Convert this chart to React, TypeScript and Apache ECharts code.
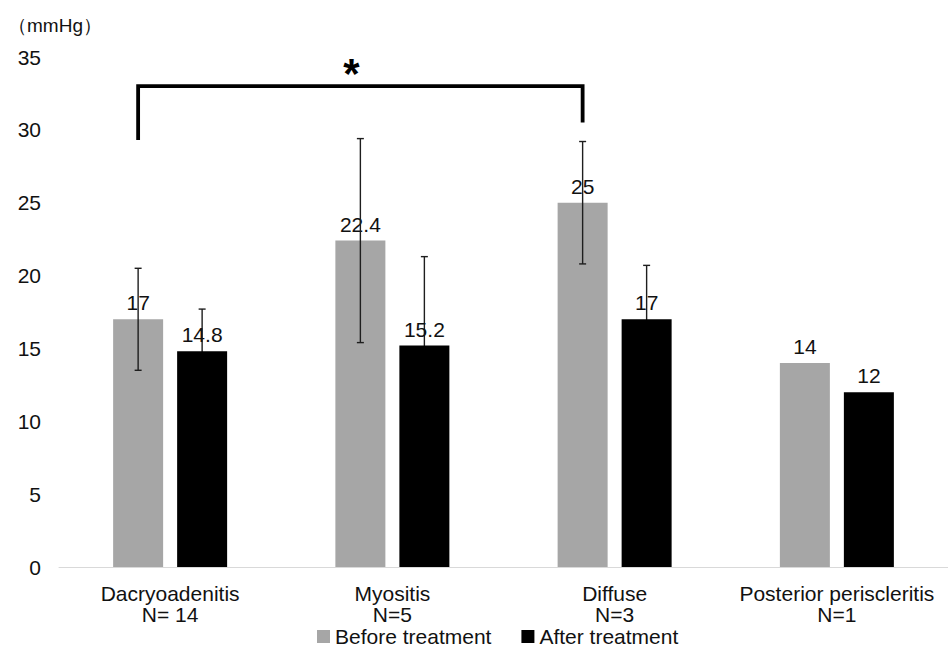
import React, { useEffect, useRef } from "react";
import * as echarts from "echarts";

const categories = [
  "Dacryoadenitis\nN= 14",
  "Myositis\nN=5",
  "Diffuse\nN=3",
  "Posterior periscleritis\nN=1",
];
const seriesNames = ["Before treatment", "After treatment"];
const beforeValues = [17, 22.4, 25, 14];
const afterValues = [14.8, 15.2, 17, 12];
const beforeSD = [3.5, 7.0, 4.2, null];
const afterSD = [2.9, 6.1, 3.7, null];
const yTicks = { min: 0, max: 35, interval: 5 };
const unitLabel = "（mmHg）";
// significance bracket: from category 0 (before) to category 2 (before)
const bracket = { from: 0, to: 2, top: 33.0, leftEnd: 29.3, rightEnd: 30.5, mark: "*" };

const FONT = "'Liberation Sans', Arial, sans-serif";
const BAR_W = 50;
const BAR_GAP_PX = 14;
const OFFSET = (BAR_W + BAR_GAP_PX) / 2;

function errorSeries(name: string, means: number[], sds: (number | null)[], offset: number, z: number) {
  const data = means
    .map((m, i) => (sds[i] == null ? null : [i, m, sds[i] as number]))
    .filter((d) => d !== null);
  return {
    name,
    type: "custom",
    z,
    silent: true,
    data,
    renderItem: (params: any, api: any) => {
      const idx = api.value(0);
      const mean = api.value(1);
      const sd = api.value(2);
      const top = api.coord([idx, mean + sd]);
      const bot = api.coord([idx, mean - sd]);
      const cx = top[0] + offset;
      const cap = 3.5;
      const style = { stroke: "#1e1e1e", lineWidth: 1.4 };
      return {
        type: "group",
        children: [
          { type: "line", shape: { x1: cx, y1: top[1], x2: cx, y2: bot[1] }, style },
          { type: "line", shape: { x1: cx - cap, y1: top[1], x2: cx + cap, y2: top[1] }, style },
          { type: "line", shape: { x1: cx - cap, y1: bot[1], x2: cx + cap, y2: bot[1] }, style },
        ],
      };
    },
  };
}

export default function App() {
  const ref = useRef<HTMLDivElement>(null);
  useEffect(() => {
    if (!ref.current) return;
    const chart = echarts.init(ref.current, undefined, { renderer: "svg" });
    const option: any = {
      animation: false,
      backgroundColor: "#ffffff",
      textStyle: { fontFamily: FONT },
      title: {
        text: unitLabel,
        left: 3,
        top: 11,
        textStyle: { fontFamily: FONT, fontSize: 19, fontWeight: "normal", color: "#111" },
      },
      legend: {
        data: seriesNames,
        left: 312,
        top: 621,
        icon: "rect",
        itemWidth: 13,
        itemHeight: 13,
        itemGap: 30,
        textStyle: { fontFamily: FONT, fontSize: 21, color: "#111" },
      },
      grid: { left: 59, top: 57, width: 898, height: 510 },
      xAxis: {
        type: "category",
        data: categories,
        axisLine: { show: true, lineStyle: { color: "#d9d9d9", width: 1 } },
        axisTick: { show: false },
        axisLabel: {
          interval: 0,
          margin: 16,
          fontFamily: FONT,
          fontSize: 21,
          lineHeight: 21,
          color: "#111",
        },
      },
      yAxis: {
        type: "value",
        min: yTicks.min,
        max: yTicks.max,
        interval: yTicks.interval,
        axisLine: { show: false },
        axisTick: { show: false },
        splitLine: { show: false },
        axisLabel: { margin: 18, fontFamily: FONT, fontSize: 21, color: "#111" },
      },
      series: [
        {
          name: seriesNames[0],
          type: "bar",
          z: 2,
          data: beforeValues,
          barWidth: BAR_W,
          barGap: (BAR_GAP_PX / BAR_W) * 100 + "%",
          itemStyle: { color: "#a6a6a6" },
          label: {
            show: true,
            position: "top",
            distance: 6,
            fontFamily: FONT,
            fontSize: 21,
            color: "#111",
          },
        },
        {
          name: seriesNames[1],
          type: "bar",
          z: 2,
          data: afterValues,
          barWidth: BAR_W,
          itemStyle: { color: "#000000" },
          label: {
            show: true,
            position: "top",
            distance: 6,
            fontFamily: FONT,
            fontSize: 21,
            color: "#111",
          },
        },
        errorSeries("err-before", beforeValues, beforeSD, -OFFSET, 5),
        errorSeries("err-after", afterValues, afterSD, OFFSET, 1),
        {
          name: "bracket",
          type: "custom",
          z: 6,
          silent: true,
          data: [[bracket.from, bracket.to, bracket.top, bracket.leftEnd, bracket.rightEnd]],
          renderItem: (params: any, api: any) => {
            const a = api.value(0);
            const b = api.value(1);
            const topV = api.value(2);
            const p1 = api.coord([a, api.value(3)]);
            const p2 = api.coord([a, topV]);
            const p3 = api.coord([b, topV]);
            const p4 = api.coord([b, api.value(4)]);
            const pts = [
              [p1[0] - OFFSET, p1[1]],
              [p2[0] - OFFSET, p2[1]],
              [p3[0] - OFFSET, p3[1]],
              [p4[0] - OFFSET, p4[1]],
            ];
            const sx = pts[1][0] + (pts[2][0] - pts[1][0]) * 0.48;
            return {
              type: "group",
              children: [
                {
                  type: "polyline",
                  shape: { points: pts },
                  style: { stroke: "#000", lineWidth: 3.8, fill: "none", lineJoin: "miter", lineCap: "butt" },
                },
                {
                  type: "text",
                  x: sx,
                  y: p2[1] + 8,
                  style: {
                    text: bracket.mark,
                    fontFamily: FONT,
                    fontWeight: "bold",
                    fontSize: 42,
                    fill: "#000",
                    align: "center",
                    verticalAlign: "bottom",
                  },
                },
              ],
            };
          },
        },
      ],
    };
    chart.setOption(option);
    return () => chart.dispose();
  }, []);
  return (
    <div
      ref={ref}
      style={{ position: "fixed", left: 0, top: 0, width: 948, height: 648, background: "#fff" }}
    />
  );
}
